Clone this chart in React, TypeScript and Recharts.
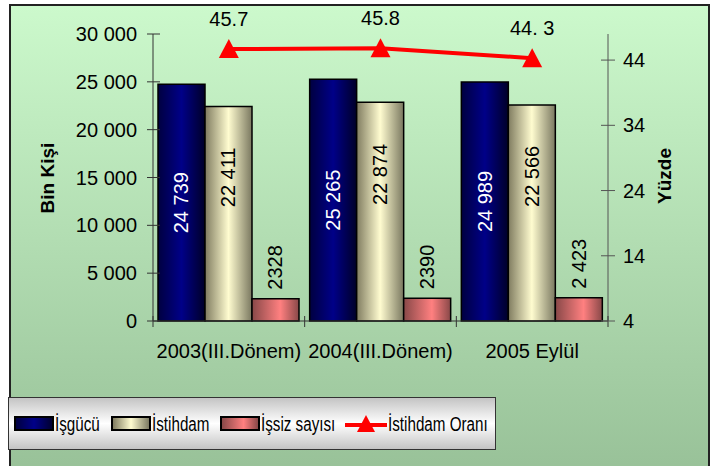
import React from 'react'
import {
  ComposedChart,
  Bar,
  Line,
  XAxis,
  YAxis,
  LabelList,
} from 'recharts'

const categories = ['2003(III.Dönem)', '2004(III.Dönem)', '2005 Eylül']
const isgucu = [24739, 25265, 24989]
const istihdam = [22411, 22874, 22566]
const issiz = [2328, 2390, 2423]
const istihdamOrani = [45.7, 45.8, 44.3]

const isgucuLabels = ['24 739', '25 265', '24 989']
const istihdamLabels = ['22 411', '22 874', '22 566']
const issizLabels = ['2328', '2390', '2 423']
const oranLabels = ['45.7', '45.8', '44. 3']

const leftTicks = [0, 5000, 10000, 15000, 20000, 25000, 30000]
const rightTicks = [4, 14, 24, 34, 44]

const data = categories.map((name, i) => ({
  name,
  isgucu: isgucu[i],
  istihdam: istihdam[i],
  issiz: issiz[i],
  oran: istihdamOrani[i],
}))

const W = 715
const H = 466
const PLOT_LEFT = 153
const PLOT_RIGHT = 608
const BAND = (PLOT_RIGHT - PLOT_LEFT) / categories.length
const FONT = 'Liberation Sans, Arial, sans-serif'

const fmt = (v: number) => (v >= 1000 ? `${Math.floor(v / 1000)} ${String(v % 1000).padStart(3, '0')}` : String(v))

const LeftTick = (props: any) => {
  const { x, y, payload } = props
  return (
    <g>
      <line x1={x - 6} x2={x + 7} y1={y} y2={y} stroke="#333" strokeWidth={1} />
      <text x={x - 16} y={y + 7} textAnchor="end" fontSize={20} fill="#000" fontFamily={FONT}>
        {fmt(payload.value)}
      </text>
    </g>
  )
}

const RightTick = (props: any) => {
  const { x, y, payload } = props
  return (
    <g>
      <line x1={x - 7} x2={x + 7} y1={y} y2={y} stroke="#555" strokeWidth={1} />
      <text x={x + 15} y={y + 7} textAnchor="start" fontSize={20} fill="#000" fontFamily={FONT}>
        {payload.value}
      </text>
    </g>
  )
}

const XTick = (props: any) => {
  const { x, y, payload, index } = props
  const left = x - BAND / 2
  return (
    <g>
      <line x1={left} x2={left} y1={y - 5} y2={y + 6} stroke="#333" />
      {index === categories.length - 1 && (
        <line x1={x + BAND / 2} x2={x + BAND / 2} y1={y - 5} y2={y + 6} stroke="#333" />
      )}
      <text x={x} y={y + 37} textAnchor="middle" fontSize={20} fill="#000" fontFamily={FONT}>
        {payload.value}
      </text>
    </g>
  )
}

const insideLabel = (labels: string[], color: string, frac: number) => (props: any) => {
  const { x, y, width, height, index } = props
  const cx = x + width / 2
  const cy = y + height * frac
  return (
    <text
      x={cx}
      y={cy}
      transform={`rotate(-90 ${cx} ${cy})`}
      textAnchor="middle"
      dominantBaseline="central"
      fontSize={20}
      fill={color}
      fontFamily={FONT}
    >
      {labels[index]}
    </text>
  )
}

const aboveLabel = (props: any) => {
  const { x, y, width, index } = props
  const cx = x + width / 2
  const cy = y - 9
  return (
    <text
      x={cx}
      y={cy}
      transform={`rotate(-90 ${cx} ${cy})`}
      textAnchor="start"
      dominantBaseline="central"
      fontSize={20}
      fill="#000"
      fontFamily={FONT}
    >
      {issizLabels[index]}
    </text>
  )
}

const lineLabel = (props: any) => {
  const { x, y, index } = props
  return (
    <text x={x} y={y - 23} textAnchor="middle" fontSize={20} fill="#000" fontFamily={FONT}>
      {oranLabels[index]}
    </text>
  )
}

const Triangle = (props: any) => {
  const { cx, cy } = props
  if (cx == null || cy == null) return null
  return <polygon points={`${cx},${cy - 10} ${cx - 10},${cy + 9} ${cx + 10},${cy + 9}`} fill="#ff0000" />
}

const AxisTitle = ({ x, y, text }: { x: number; y: number; text: string }) => (
  <text
    x={x}
    y={y}
    transform={`rotate(-90 ${x} ${y})`}
    textAnchor="middle"
    dominantBaseline="central"
    fontSize={19}
    fontWeight="bold"
    fill="#000"
    fontFamily={FONT}
  >
    {text}
  </text>
)

const blueGrad = 'linear-gradient(to right, #000040, #000088 50%, #000030)'
const beigeGrad = 'linear-gradient(to right, #807c60, #fffcd0 50%, #7c7a62)'
const pinkGrad = 'linear-gradient(to right, #884848, #ff8080 60%, #884848)'

const legendItems = [
  { label: 'İşgücü', grad: blueGrad, left: 5 },
  { label: 'İstihdam', grad: beigeGrad, left: 102 },
  { label: 'İşsiz sayısı', grad: pinkGrad, left: 211 },
  { label: 'İstihdam Oranı', grad: '', left: 336 },
]

export default function App() {
  return (
    <div style={{ position: 'fixed', left: 0, top: 0, width: W, height: H, background: '#fff', overflow: 'hidden' }}>
      <div
        style={{
          position: 'absolute',
          left: 9,
          top: 4,
          width: 701,
          height: 480,
          border: '2px solid #222',
          boxSizing: 'border-box',
          background: 'linear-gradient(to bottom, #ccf9cc, #97c097)',
        }}
      />
      <div style={{ position: 'absolute', left: 0, top: 0 }}>
        <ComposedChart
          width={W}
          height={H}
          data={data}
          margin={{ top: 34, right: 47, left: 53, bottom: 105 }}
          barCategoryGap={5}
          barGap={0}
        >
          <defs>
            <linearGradient id="gBlue" x1="0" y1="0" x2="1" y2="0">
              <stop offset="0%" stopColor="#000040" />
              <stop offset="50%" stopColor="#000088" />
              <stop offset="100%" stopColor="#000028" />
            </linearGradient>
            <linearGradient id="gBeige" x1="0" y1="0" x2="1" y2="0">
              <stop offset="0%" stopColor="#807c60" />
              <stop offset="50%" stopColor="#fffcd0" />
              <stop offset="100%" stopColor="#7a7860" />
            </linearGradient>
            <linearGradient id="gPink" x1="0" y1="0" x2="1" y2="0">
              <stop offset="0%" stopColor="#884848" />
              <stop offset="60%" stopColor="#ff8080" />
              <stop offset="100%" stopColor="#884848" />
            </linearGradient>
          </defs>
          <XAxis
            dataKey="name"
            height={40}
            tickSize={0}
            tickMargin={0}
            tickLine={false}
            axisLine={{ stroke: '#333' }}
            tick={<XTick />}
            interval={0}
          />
          <YAxis
            yAxisId="left"
            width={100}
            domain={[0, 30000]}
            ticks={leftTicks}
            tickSize={0}
            tickMargin={0}
            tickLine={false}
            axisLine={{ stroke: '#333' }}
            tick={<LeftTick />}
          />
          <YAxis
            yAxisId="right"
            orientation="right"
            width={60}
            domain={[4, 48]}
            ticks={rightTicks}
            tickSize={0}
            tickMargin={0}
            tickLine={false}
            axisLine={{ stroke: '#555' }}
            tick={<RightTick />}
          />
          <Bar yAxisId="left" dataKey="isgucu" fill="url(#gBlue)" stroke="#000" strokeWidth={1.5} isAnimationActive={false}>
            <LabelList dataKey="isgucu" content={insideLabel(isgucuLabels, '#fff', 0.5)} />
          </Bar>
          <Bar yAxisId="left" dataKey="istihdam" fill="url(#gBeige)" stroke="#000" strokeWidth={1.5} isAnimationActive={false}>
            <LabelList dataKey="istihdam" content={insideLabel(istihdamLabels, '#000', 0.33)} />
          </Bar>
          <Bar yAxisId="left" dataKey="issiz" fill="url(#gPink)" stroke="#000" strokeWidth={1.5} isAnimationActive={false}>
            <LabelList dataKey="issiz" content={aboveLabel} />
          </Bar>
          <Line
            yAxisId="right"
            dataKey="oran"
            stroke="#ff0000"
            strokeWidth={4}
            dot={<Triangle />}
            activeDot={false}
            isAnimationActive={false}
          >
            <LabelList dataKey="oran" content={lineLabel} />
          </Line>
          <AxisTitle x={47} y={178} text="Bin Kişi" />
          <AxisTitle x={664} y={176} text="Yüzde" />
        </ComposedChart>
      </div>
      <div
        style={{
          position: 'absolute',
          left: 8,
          top: 397,
          width: 488,
          height: 53,
          border: '1px solid #333',
          boxSizing: 'border-box',
          background: 'linear-gradient(to bottom, #c4c4c4, #ffffff 50%, #c4c4c4)',
        }}
      >
        {legendItems.map((it) => (
          <div key={it.label} style={{ position: 'absolute', left: it.left, top: 0, height: 51, display: 'flex', alignItems: 'center' }}>
            {it.grad ? (
              <span
                style={{
                  display: 'inline-block',
                  width: 40,
                  height: 15,
                  border: '2px solid #000',
                  background: it.grad,
                  boxSizing: 'border-box',
                }}
              />
            ) : (
              <svg width={42} height={22} style={{ display: 'block' }}>
                <line x1={0} x2={42} y1={12} y2={12} stroke="#ff0000" strokeWidth={4} />
                <polygon points="21,2 12,19 30,19" fill="#ff0000" />
              </svg>
            )}
            <span
              style={{
                display: 'inline-block',
                marginLeft: 1,
                fontSize: 20,
                fontFamily: FONT,
                transform: 'scaleX(0.76)',
                transformOrigin: 'left center',
                whiteSpace: 'nowrap',
                lineHeight: '22px',
              }}
            >
              {it.label}
            </span>
          </div>
        ))}
      </div>
    </div>
  )
}
